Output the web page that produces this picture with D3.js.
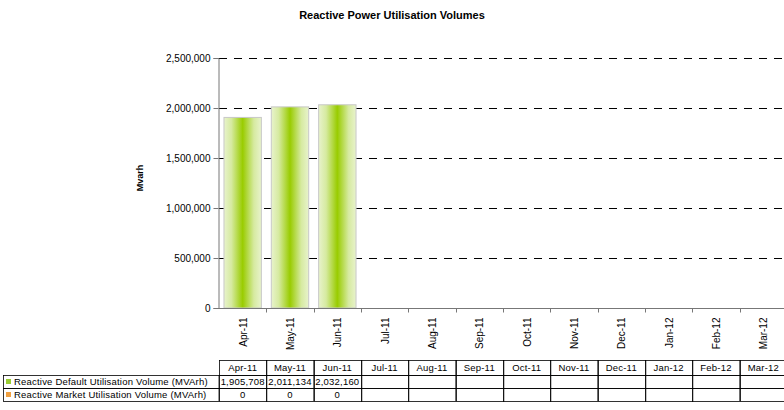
<!DOCTYPE html>
<html>
<head>
<meta charset="utf-8">
<script src="https://cdn.jsdelivr.net/npm/d3@7"></script>
<style>
body { margin: 0; background: #fff; }
svg { font-family: "Liberation Sans", Arial, sans-serif; }
</style>
</head>
<body>
<svg class="chart" width="784" height="410"></svg>
<script>
let months = ['Apr-11', 'May-11', 'Jun-11', 'Jul-11', 'Aug-11', 'Sep-11', 'Oct-11', 'Nov-11', 'Dec-11', 'Jan-12', 'Feb-12', 'Mar-12'];
let defaultVolume = [1905708, 2011134, 2032160, null, null, null, null, null, null, null, null, null];
let marketVolume = [0, 0, 0, null, null, null, null, null, null, null, null, null];
let seriesNames = ['Reactive Default Utilisation Volume (MVArh)', 'Reactive Market Utilisation Volume (MVArh)'];
let yTicks = [0, 500000, 1000000, 1500000, 2000000, 2500000];

let svg = d3.select(".chart");
let plotLeft = 219, plotRight = 787, plotTop = 58, plotBottom = 308;

let x = d3.scaleBand().domain(months).range([plotLeft, plotRight]).paddingInner(0.21).paddingOuter(0.105);
let xCell = d3.scaleBand().domain(months).range([plotLeft, plotRight]);
let y = d3.scaleLinear().domain([0, 2500000]).range([plotBottom, plotTop]);
let fmt = d3.format(",");

// gradient for bars
let defs = svg.append("defs");
let grad = defs.append("linearGradient").attr("id", "barGrad").attr("x1", "0%").attr("x2", "100%");
grad.append("stop").attr("offset", "0%").attr("stop-color", "#e8f3cc");
grad.append("stop").attr("offset", "20%").attr("stop-color", "#d6eaa0");
grad.append("stop").attr("offset", "50%").attr("stop-color", "#99cc00");
grad.append("stop").attr("offset", "80%").attr("stop-color", "#d6eaa0");
grad.append("stop").attr("offset", "100%").attr("stop-color", "#e8f3cc");

// title
svg.append("text").attr("x", 392).attr("y", 19).attr("text-anchor", "middle")
    .attr("font-size", 11).attr("font-weight", "bold").text("Reactive Power Utilisation Volumes");

// gridlines
svg.append("g").selectAll("line").data(yTicks.slice(1)).enter().append("line")
    .attr("x1", plotLeft).attr("x2", 784)
    .attr("y1", d => Math.round(y(d)) + 0.5).attr("y2", d => Math.round(y(d)) + 0.5)
    .attr("stroke", "#000").attr("stroke-dasharray", "8,7");

// bars
let barData = months.map((m, i) => ({m: m, v: defaultVolume[i]})).filter(d => d.v != null);
svg.append("g").selectAll("rect").data(barData).enter().append("rect")
    .attr("x", d => x(d.m)).attr("width", x.bandwidth())
    .attr("y", d => y(d.v)).attr("height", d => plotBottom - y(d.v))
    .attr("fill", "url(#barGrad)").attr("stroke", "#c8c8c8").attr("stroke-width", 1);

// y axis
let yAxis = svg.append("g").attr("transform", "translate(" + (plotLeft - 0.5) + ",0)")
    .call(d3.axisLeft(y).tickValues(yTicks).tickFormat(fmt).tickSize(5).tickPadding(3));
yAxis.select(".domain").attr("stroke", "#777");
yAxis.selectAll(".tick line").attr("stroke", "#777");
yAxis.selectAll("text").attr("font-size", 10).attr("fill", "#000").attr("font-family", "Liberation Sans, Arial, sans-serif");

// x axis
let xAxisG = svg.append("g").attr("transform", "translate(0," + (plotBottom + 0.5) + ")");
xAxisG.append("line").attr("x1", plotLeft - 5).attr("x2", 784).attr("stroke", "#777");
xAxisG.selectAll(".xt").data(months).enter().append("line")
    .attr("x1", d => Math.round(xCell(d) + xCell.bandwidth()) + 0.5)
    .attr("x2", d => Math.round(xCell(d) + xCell.bandwidth()) + 0.5)
    .attr("y1", 0).attr("y2", 4).attr("stroke", "#777");
xAxisG.selectAll("text").data(months).enter().append("text")
    .attr("transform", d => "translate(" + (xCell(d) + xCell.bandwidth() / 2 + 4) + ",9) rotate(-90)")
    .attr("text-anchor", "end").attr("font-size", 10).text(d => d);

// y label
svg.append("text").attr("transform", "translate(143,178) rotate(-90)")
    .attr("text-anchor", "middle").attr("font-size", 9).attr("font-weight", "bold").text("Mvarh");

// data table
let tTop = 360, rowH = 13, headH = 15, labelLeft = 3.5;
let table = svg.append("g").attr("font-size", 9.5).attr("letter-spacing", 0.2);
let rows = [defaultVolume, marketVolume];
let swatch = ['#99cc33', '#f0a040'];

// header cells
table.selectAll(".head").data(months).enter().append("rect")
    .attr("x", d => Math.round(xCell(d)) + 0.5).attr("y", tTop + 0.5)
    .attr("width", xCell.bandwidth()).attr("height", headH)
    .attr("fill", "none").attr("stroke", "#000").attr("stroke-width", 0.8);
table.selectAll(".headText").data(months).enter().append("text")
    .attr("x", d => xCell(d) + xCell.bandwidth() / 2).attr("y", tTop + 11)
    .attr("text-anchor", "middle").text(d => d);

rows.forEach(function(vals, r) {
    let ry = tTop + headH + r * rowH;
    table.append("rect").attr("x", labelLeft).attr("y", ry + 0.5)
        .attr("width", plotLeft - labelLeft).attr("height", rowH)
        .attr("fill", "none").attr("stroke", "#000").attr("stroke-width", 0.8);
    table.append("rect").attr("x", 6).attr("y", ry + 4).attr("width", 5).attr("height", 5)
        .attr("fill", swatch[r]);
    table.append("text").attr("x", 14).attr("y", ry + 10).text(seriesNames[r]);
    months.forEach(function(m, i) {
        table.append("rect").attr("x", Math.round(xCell(m)) + 0.5).attr("y", ry + 0.5)
            .attr("width", xCell.bandwidth()).attr("height", rowH)
            .attr("fill", "none").attr("stroke", "#000").attr("stroke-width", 0.8);
        if (vals[i] != null) {
            table.append("text").attr("x", xCell(m) + xCell.bandwidth() / 2).attr("y", ry + 10)
                .attr("text-anchor", "middle").text(fmt(vals[i]));
        }
    });
});
</script>
</body>
</html>
